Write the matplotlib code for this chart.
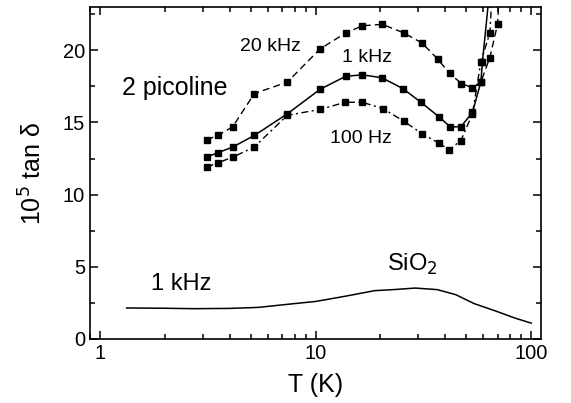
import matplotlib
matplotlib.use("Agg")
import matplotlib.pyplot as plt
from matplotlib.ticker import MultipleLocator, LogLocator, NullFormatter, FixedLocator, FixedFormatter

plt.rcParams['font.family'] = ['Liberation Sans', 'DejaVu Sans']

# 2 picoline, tan delta (x 1e-5) vs T (K)
T_20k = [3.13, 3.52, 4.13, 5.2, 7.4, 10.5, 13.8, 16.5, 20.4, 25.7, 31.2, 36.8, 41.8, 47.5, 53.4, 58.4, 64.3, 69.9, 72.0]
tan_20k = [13.8, 14.1, 14.7, 17.0, 17.8, 20.1, 21.2, 21.7, 21.8, 21.2, 20.5, 19.4, 18.4, 17.7, 17.4, 17.8, 19.5, 21.85, 26.0]

T_1k = [3.13, 3.52, 4.13, 5.2, 7.4, 10.5, 13.8, 16.5, 20.3, 25.4, 30.8, 37.3, 42.1, 47.2, 53.4, 58.4, 59.4, 66.0]
tan_1k = [12.6, 12.9, 13.3, 14.1, 15.6, 17.3, 18.2, 18.3, 18.1, 17.35, 16.4, 15.4, 14.7, 14.7, 15.7, 17.8, 19.2, 26.0]

T_100 = [3.13, 3.52, 4.13, 5.2, 7.4, 10.5, 13.7, 16.5, 20.6, 25.6, 31.3, 37.5, 41.6, 47.2, 53.4, 58.4, 64.3, 67.0]
tan_100 = [11.9, 12.2, 12.6, 13.3, 15.5, 15.9, 16.4, 16.4, 15.95, 15.1, 14.2, 13.55, 13.1, 13.75, 15.6, 19.2, 21.2, 26.0]

# SiO2 reference, 1 kHz
T_sio2 = [1.33, 2.0, 2.74, 4.0, 5.43, 7.95, 10.0, 13.7, 18.8, 22.9, 29.0, 36.7, 44.7, 54.4, 69.0, 84.0, 100.0]
tan_sio2 = [2.15, 2.13, 2.1, 2.12, 2.19, 2.45, 2.6, 2.96, 3.35, 3.42, 3.53, 3.42, 3.07, 2.45, 1.92, 1.45, 1.1]

fig = plt.figure(figsize=(5.71, 4.03), dpi=100)
ax = fig.add_axes([90/571, 64/403, 451/571, 332/403])

ms = 4.5
ax.plot(T_20k, tan_20k, color='black', lw=1.0, ls=(0, (5, 3)), marker='s', ms=ms)
ax.plot(T_1k, tan_1k, color='black', lw=1.1, ls='-', marker='s', ms=ms)
ax.plot(T_100, tan_100, color='black', lw=1.0, ls=(0, (5, 2.5, 1.5, 2.5)), marker='s', ms=ms)
ax.plot(T_sio2, tan_sio2, color='black', lw=1.1, ls='-')

ax.set_xscale('log')
ax.set_xlim(0.9, 111)
ax.set_ylim(0, 23)

ax.xaxis.set_major_locator(FixedLocator([1, 10, 100]))
ax.xaxis.set_major_formatter(FixedFormatter(['1', '10', '100']))
ax.xaxis.set_minor_locator(LogLocator(base=10, subs=range(2, 10)))
ax.xaxis.set_minor_formatter(NullFormatter())
ax.yaxis.set_major_locator(MultipleLocator(5))
ax.yaxis.set_minor_locator(MultipleLocator(2.5))

ax.tick_params(which='both', direction='in', top=True, right=True, labelsize=14.5, width=1.1)
ax.tick_params(which='major', length=6)
ax.tick_params(which='minor', length=3.5)
for s in ax.spines.values():
    s.set_linewidth(1.2)

ax.set_xlabel('T (K)', fontsize=18, labelpad=7)
ax.set_ylabel('10$^5$ tan δ', fontsize=18, labelpad=12)

ax.text(0.399, 0.880, '20 kHz', transform=ax.transAxes, fontsize=14, ha='center', va='center')
ax.text(0.614, 0.849, '1 kHz', transform=ax.transAxes, fontsize=14, ha='center', va='center')
ax.text(0.601, 0.605, '100 Hz', transform=ax.transAxes, fontsize=14, ha='center', va='center')
ax.text(0.188, 0.756, '2 picoline', transform=ax.transAxes, fontsize=18, ha='center', va='center')
ax.text(0.202, 0.166, '1 kHz', transform=ax.transAxes, fontsize=17, ha='center', va='center')
ax.text(0.714, 0.226, 'SiO$_2$', transform=ax.transAxes, fontsize=17, ha='center', va='center')

fig.savefig('out.png', dpi=100)
